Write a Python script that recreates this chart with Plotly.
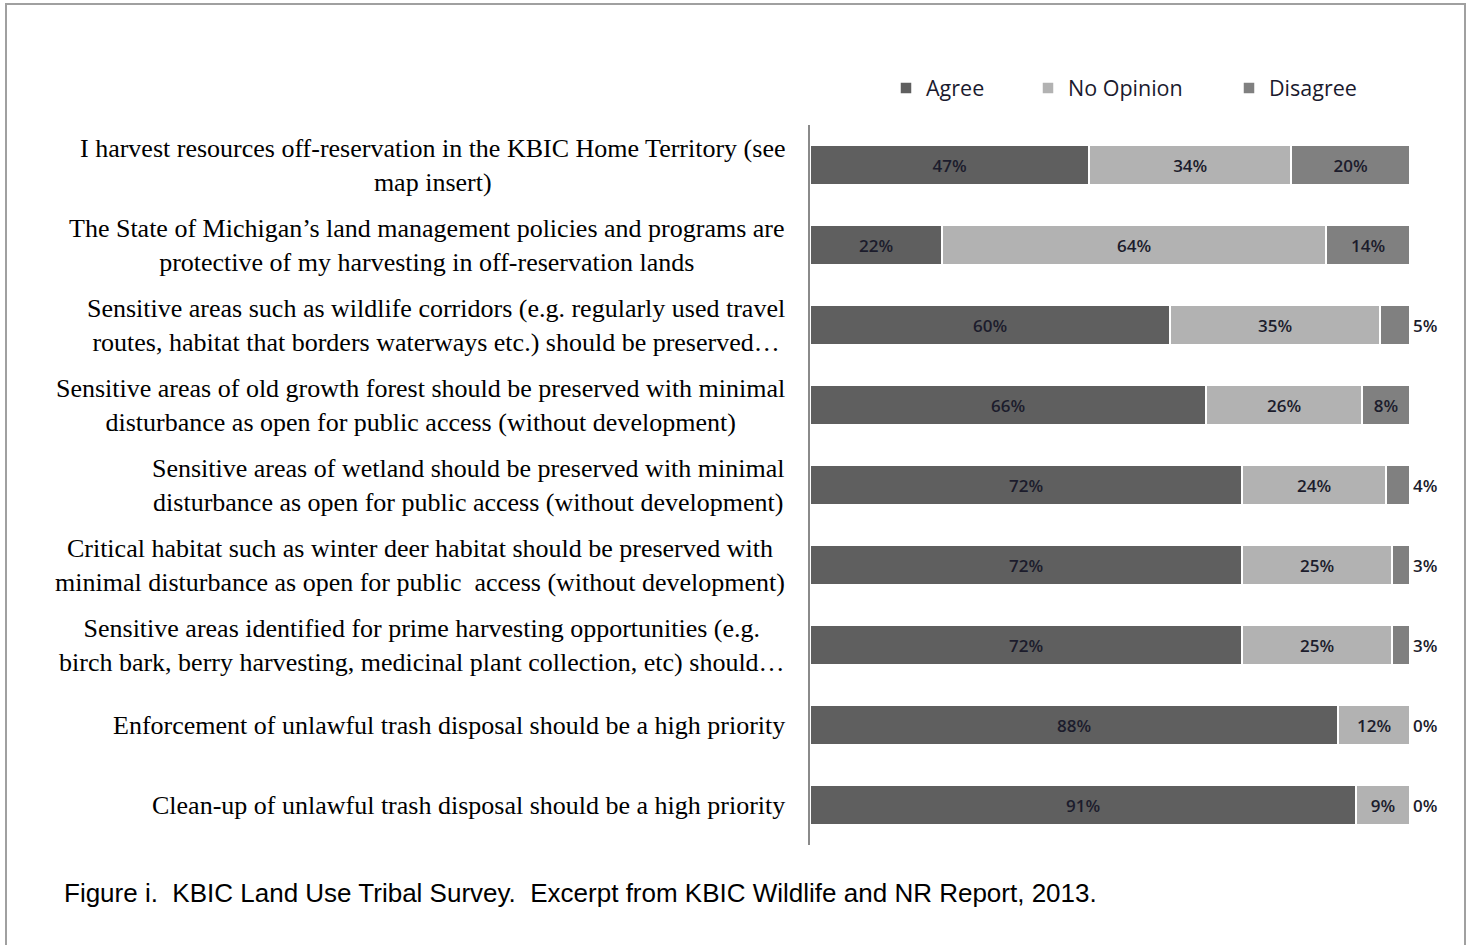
import plotly.graph_objects as go

categories = [
    "I harvest resources off-reservation in the KBIC Home Territory (see<br>map insert)",
    "The State of Michigan’s land management policies and programs are<br>protective of my harvesting in off-reservation lands",
    "Sensitive areas such as wildlife corridors (e.g. regularly used travel<br>routes, habitat that borders waterways etc.) should be preserved…",
    "Sensitive areas of old growth forest should be preserved with minimal<br>disturbance as open for public access (without development)",
    "Sensitive areas of wetland should be preserved with minimal<br>disturbance as open for public access (without development)",
    "Critical habitat such as winter deer habitat should be preserved with<br>minimal disturbance as open for public  access (without development)",
    "Sensitive areas identified for prime harvesting opportunities (e.g.<br>birch bark, berry harvesting, medicinal plant collection, etc) should…",
    "Enforcement of unlawful trash disposal should be a high priority",
    "Clean-up of unlawful trash disposal should be a high priority",
]
agree = [47, 22, 60, 66, 72, 72, 72, 88, 91]
no_opinion = [34, 64, 35, 26, 24, 25, 25, 12, 9]
disagree = [20, 14, 5, 8, 4, 3, 3, 0, 0]

ids = list(range(len(categories)))

colors = {"Agree": "#5f5f5f", "No Opinion": "#b2b2b2", "Disagree": "#808080"}
legend_ids = {"Agree": "legend", "No Opinion": "legend2", "Disagree": "legend3"}
txtfont = dict(family="Open Sans, Liberation Sans, sans-serif", size=17,
               color="#1c1c2c", weight=600)

fig = go.Figure()
for name, vals in [("Agree", agree), ("No Opinion", no_opinion), ("Disagree", disagree)]:
    if name == "Disagree":
        pos = ["inside" if v >= 8 else "outside" for v in vals]
    else:
        pos = "inside"
    fig.add_trace(go.Bar(
        y=ids, x=vals, name=name, orientation="h", legend=legend_ids[name],
        marker=dict(color=colors[name], line=dict(color="white", width=1.5)),
        text=[f"{v}%" for v in vals], textposition=pos,
        insidetextanchor="middle", textangle=0,
        insidetextfont=txtfont, outsidetextfont=txtfont,
        cliponaxis=False, hoverinfo="skip",
    ))

annotations = []
for i, c in enumerate(categories):
    annotations.append(dict(
        x=-23 / 600, xref="paper", y=i, yref="y", text=c, showarrow=False,
        xanchor="right", yanchor="middle", align="center",
        font=dict(family="Liberation Serif, Times New Roman, serif", size=26, color="#000000"),
    ))
annotations.append(dict(
    x=(62 - 810) / 600, xref="paper", y=(845 - 893) / 720, yref="paper",
    text="Figure i.  KBIC Land Use Tribal Survey.  Excerpt from KBIC Wildlife and NR Report, 2013.",
    showarrow=False, xanchor="left", yanchor="middle",
    font=dict(family="Liberation Sans, Arial, sans-serif", size=26, color="#000000"),
))

legfont = dict(family="Open Sans, sans-serif", size=21.5, color="#1a1a2e")
def leg(px):
    return dict(orientation="h", x=(px - 810) / 600, y=(845 - 88) / 720,
                xanchor="left", yanchor="middle", font=legfont, itemwidth=30,
                bgcolor="rgba(0,0,0,0)")

fig.update_layout(
    width=1470, height=945,
    margin=dict(l=810, r=60, t=125, b=100),
    barmode="stack", barnorm="percent", bargap=0.5,
    plot_bgcolor="white", paper_bgcolor="white",
    xaxis=dict(range=[0, 100], visible=False, fixedrange=True),
    yaxis=dict(autorange="reversed", showticklabels=False, showgrid=False, zeroline=False,
               showline=True, linecolor="#8a8a8a", linewidth=2, ticks=""),
    legend=leg(886), legend2=leg(1028), legend3=leg(1229),
    annotations=annotations,
    shapes=[dict(type="rect", xref="paper", yref="paper",
                 x0=(6 - 810) / 600, x1=(1465 - 810) / 600,
                 y0=(845 - 960) / 720, y1=(845 - 4) / 720,
                 line=dict(color="#a0a0a0", width=2), fillcolor="rgba(0,0,0,0)", layer="below")],
    showlegend=True,
)
fig.write_html("out.html")
